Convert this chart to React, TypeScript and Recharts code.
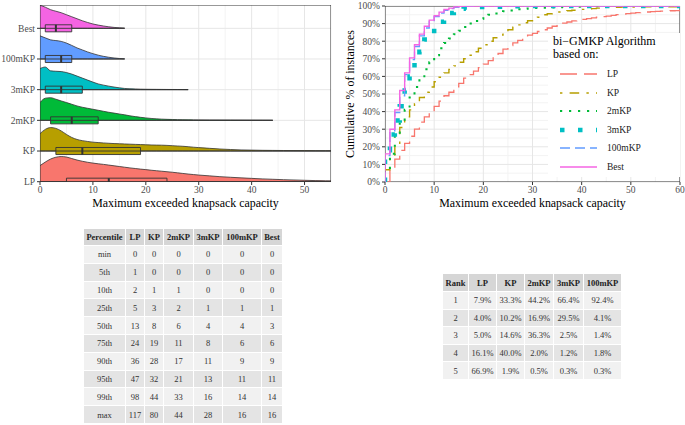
import React from 'react';
import {
  Area, CartesianGrid, ComposedChart, Legend, Line, ReferenceArea, ReferenceLine, XAxis, YAxis,
} from 'recharts';

const SERIF = "'Liberation Serif', 'DejaVu Serif', 'Tinos', 'Noto Serif', serif";
const AXIS_GREY = '#4d4d4d';
const INK = '#333333';

const ALGOS = ['LP', 'KP', '2mKP', '3mKP', '100mKP', 'Best'];
const COLORS = ['#F8766D', '#B79F00', '#00BA38', '#00BFC4', '#619CFF', '#F564E3'];

// percentile table, also used for the boxplots (min, 25th, 50th, 75th, max)
const PCT_LABELS = ['min', '5th', '10th', '25th', '50th', '75th', '90th', '95th', '99th', 'max'];
const PCT_LP = [0, 1, 2, 5, 13, 24, 36, 47, 98, 117];
const PCT_KP = [0, 0, 1, 3, 8, 19, 28, 32, 44, 80];
const PCT_2MKP = [0, 0, 1, 2, 6, 11, 17, 21, 33, 44];
const PCT_3MKP = [0, 0, 0, 1, 4, 8, 11, 13, 16, 28];
const PCT_100MKP = [0, 0, 0, 1, 4, 6, 9, 11, 14, 16];
const PCT_BEST = [0, 0, 0, 1, 3, 6, 9, 11, 14, 16];
const PCT_SERIES = [PCT_LP, PCT_KP, PCT_2MKP, PCT_3MKP, PCT_100MKP, PCT_BEST];

// rank table
const RANKS = ['1', '2', '3', '4', '5'];
const RANK_LP = ['7.9%', '4.0%', '5.0%', '16.1%', '66.9%'];
const RANK_KP = ['33.3%', '10.2%', '14.6%', '40.0%', '1.9%'];
const RANK_2MKP = ['44.2%', '16.9%', '36.3%', '2.0%', '0.5%'];
const RANK_3MKP = ['66.4%', '29.5%', '2.5%', '1.2%', '0.3%'];
const RANK_100MKP = ['92.4%', '4.1%', '1.4%', '1.8%', '0.3%'];
const RANK_SERIES = [RANK_LP, RANK_KP, RANK_2MKP, RANK_3MKP, RANK_100MKP];

// ridge densities (arbitrary units) on this x grid
const DENS_X = [
  0, 1, 2, 3, 4, 5, 6, 7, 8, 9, 10, 11, 12, 13, 14, 15, 16, 17, 18, 19, 20,
  21, 22, 23, 24, 25, 26, 27, 28, 29, 30, 32, 34, 36, 38, 40, 42, 44, 46, 48, 50, 52, 54, 56,
];
const DENS_LP = [
  16, 19.5, 22.5, 24.3, 25, 24.5, 23, 21.5, 20.3, 19.3, 18.5, 17.8, 17.2, 16.5, 15.8, 15.1, 14.4, 13.7, 13.1, 12.5, 12,
  11.4, 10.9, 10.4, 9.9, 9.4, 8.8, 8.2, 7.6, 7.1, 6.6, 5.8, 5, 4.4, 3.8, 3.3, 2.8, 2.4, 2, 1.7, 1.4, 1.1, 0.9, 0.8,
];
const DENS_KP = [
  17.3, 21.5, 23.3, 22.5, 20, 16.5, 13.5, 11.5, 10.3, 9.5, 8.8, 8.4, 8, 7.7, 7.4, 7.2, 7, 6.8, 6.6, 6.4, 6.2,
  6, 5.9, 5.8, 5.6, 5.3, 5, 4.7, 4.3, 3.8, 3.4, 2.7, 2, 1.5, 1.1, 0.9, 0.7, 0.6, 0.5, 0.45, 0.4, 0.35, 0.3, 0.3,
];
const DENS_2MKP = [
  17.7, 22, 22.5, 21, 19.3, 17.7, 16, 14.3, 13, 12, 11, 10, 9, 8, 7.2, 6.3, 5.5, 4.5, 3.7, 3, 2.4,
  1.9, 1.5, 1.2, 1, 0.85, 0.7, 0.6, 0.5, 0.45, 0.4, 0.3, 0.28, 0.25, 0.2, 0.17, 0.15, 0.1,
];
const DENS_3MKP = [
  21, 22.5, 18.7, 18.3, 18, 17, 15.5, 13.5, 11.5, 9.5, 7.5, 5.7, 4.5, 3.5, 2.6, 1.8, 1.2, 0.9, 0.7, 0.5, 0.4,
  0.35, 0.3, 0.25, 0.2, 0.17, 0.15, 0.12, 0.1,
];
const DENS_100MKP = [23, 21, 19, 18.3, 17.5, 15.8, 13.5, 11, 9, 7, 5.3, 3.8, 2.6, 1.7, 1, 0.5, 0.2];
const DENS_BEST = [23, 21, 18.5, 17, 15.5, 13.5, 11.5, 9.5, 7.5, 5.8, 4.3, 3.2, 2.3, 1.5, 0.9, 0.5, 0.2];
const DENS_SERIES = [DENS_LP, DENS_KP, DENS_2MKP, DENS_3MKP, DENS_100MKP, DENS_BEST];

// cumulative % of instances at x = 0, 1, 2, ... (flat after the last value)
const ECDF_LP = [
  0, 7.5, 13, 18, 22, 26, 30, 34, 37, 40, 43, 46, 49, 51, 54, 56, 59, 61, 63, 65, 67,
  69, 71, 73, 75.5, 77.5, 79, 80.5, 82, 83.5, 84.5, 85.5, 86.5, 87.5, 88.5, 89.5, 90.3, 90.9, 91.5, 92, 92.4,
  92.8, 93.2, 93.6, 94, 94.3, 94.7, 95.1, 95.4, 95.7, 96, 96.2, 96.4, 96.6, 96.8, 97, 97.1, 97.2, 97.3, 97.4, 97.5,
];
const ECDF_KP = [
  7, 13, 22, 31, 37, 41, 44.5, 48, 51, 54, 57, 59.5, 62, 64, 66, 68, 70, 72, 74, 76, 78,
  80, 82, 83.5, 85, 86.5, 88, 89.3, 90.5, 91.6, 92.5, 93.6, 95, 95.6, 96.1, 96.6, 97, 97.3, 97.6, 97.9, 98.1,
  98.3, 98.5, 98.8, 99.1, 99.2, 99.3, 99.3, 99.4, 99.4, 99.4, 99.5,
];
const ECDF_2MKP = [
  7, 16, 26, 34, 41, 48, 54, 59, 64, 68, 72, 76, 79, 81.5, 84, 86, 88, 90, 91.5, 92.7, 93.8,
  95, 95.8, 96.5, 97, 97.4, 97.8, 98.1, 98.4, 98.6, 98.8, 98.9, 99, 99.1, 99.2, 99.3, 99.4, 99.5, 99.5, 99.6, 99.7,
  99.7, 99.8, 99.9, 100,
];
const ECDF_3MKP = [
  18, 27, 35, 43, 52, 60, 68, 74, 81, 84, 88, 91, 93.5, 96, 97.5, 98.5, 99.2, 99.4, 99.5, 99.5, 99.5,
  99.5, 99.6, 99.6, 99.7, 99.7, 99.8, 99.8, 100,
];
const ECDF_100MKP = [15, 29, 39.5, 49, 61, 69.5, 77, 83, 87.5, 91.3, 94, 96, 97.5, 98.5, 99.2, 99.6, 100];
const ECDF_BEST = [16, 30, 41, 52, 62, 70.5, 78, 84, 88.5, 92, 94.5, 96.5, 98, 98.8, 99.5, 99.8, 100];
const ECDF_SERIES = [ECDF_LP, ECDF_KP, ECDF_2MKP, ECDF_3MKP, ECDF_100MKP, ECDF_BEST];

const DASHES = ['17 7', '2.4 7.2 9.6 7.2', '2.2 6.8', '4.5 13.5', '10 5', undefined];
const WIDTHS = [1.3, 1.4, 2, 4.5, 1.3, 1.4];

const RIDGE_SCALE = 0.0328; // density units -> row heights
const BOX_HALF = 0.115;

const ridgeRows = DENS_X.map((x, i) => {
  const row: Record<string, any> = { x };
  DENS_SERIES.forEach((d, k) => {
    if (i < d.length) row[ALGOS[k]] = [k + 1, k + 1 + d[i] * RIDGE_SCALE];
  });
  return row;
});

const ecdfPoints = (vals: number[], xMax: number) => {
  const pts = [{ x: 0, y: 0 }, ...vals.map((v, i) => ({ x: i, y: v }))];
  pts.push({ x: xMax, y: vals[vals.length - 1] });
  return pts;
};

const tickStyle = { fontSize: 9.5, fill: AXIS_GREY, fontFamily: SERIF };
const titleStyle = { fontSize: 11.9, fill: '#000', fontFamily: SERIF };

function RidgeChart() {
  return (
    <ComposedChart width={340} height={210} data={ridgeRows} margin={{ top: 5, right: 9, bottom: 0, left: 0 }}>
      <CartesianGrid stroke="#f3f3f3" verticalValues={[5, 15, 25, 35, 45, 55]} horizontal={false} />
      <CartesianGrid stroke="#e6e6e6" verticalValues={[0, 10, 20, 30, 40, 50]} horizontalValues={[1, 2, 3, 4, 5, 6]} />
      <XAxis
        type="number" dataKey="x" domain={[0, 55]} allowDataOverflow ticks={[0, 10, 20, 30, 40, 50]}
        height={28} tickSize={3} tickMargin={1} tick={tickStyle} axisLine={false} tickLine={{ stroke: INK }}
        label={{ value: 'Maximum exceeded knapsack capacity', position: 'center', dy: 7, style: titleStyle }}
      />
      <YAxis
        type="number" domain={[0.99, 6.76]} allowDataOverflow ticks={[1, 2, 3, 4, 5, 6]} interval={0}
        tickFormatter={(v: number) => ALGOS[v - 1]} width={40} tickSize={3} tickMargin={2}
        tick={tickStyle} axisLine={false} tickLine={{ stroke: INK }}
      />
      {ALGOS.map((a, k) => (
        <Area
          key={a} dataKey={a} type="monotone" fill={COLORS[k]} fillOpacity={1}
          stroke={INK} strokeWidth={0.8} isAnimationActive={false}
        />
      ))}
      {PCT_SERIES.map((p, k) => (
        <ReferenceLine
          key={`w${k}`} segment={[{ x: p[0], y: k + 1 }, { x: p[9], y: k + 1 }]}
          stroke={INK} strokeWidth={0.9} ifOverflow="hidden"
        />
      ))}
      {PCT_SERIES.map((p, k) => (
        <ReferenceArea
          key={`b${k}`} x1={p[3]} x2={p[5]} y1={k + 1 - BOX_HALF} y2={k + 1 + BOX_HALF}
          fill={COLORS[k]} fillOpacity={1} stroke={INK} strokeWidth={0.9} ifOverflow="hidden"
        />
      ))}
      {PCT_SERIES.map((p, k) => (
        <ReferenceLine
          key={`m${k}`} segment={[{ x: p[4], y: k + 1 - BOX_HALF }, { x: p[4], y: k + 1 + BOX_HALF }]}
          stroke={INK} strokeWidth={2} ifOverflow="hidden"
        />
      ))}
      <ReferenceArea x1={0} x2={55} y1={0.99} y2={6.76} fill="none" stroke={INK} strokeWidth={1} ifOverflow="hidden" />
    </ComposedChart>
  );
}

function EcdfLegend() {
  return (
    <div style={{ position: 'relative', width: 132, height: 144, background: '#fff', fontFamily: SERIF }}>
      <div style={{ position: 'absolute', left: 5, top: 2, fontSize: 12, lineHeight: '13px', color: '#000', whiteSpace: 'nowrap' }}>
        bi−GMKP Algorithm<br />based on:
      </div>
      {ALGOS.map((a, k) => (
        <div key={a} style={{ position: 'absolute', left: 12, top: 32 + k * 18.5, height: 18, display: 'flex', alignItems: 'center' }}>
          <svg width={47} height={10}>
            <line x1={0} x2={37} y1={5} y2={5} stroke={COLORS[k]} strokeWidth={WIDTHS[k]} strokeDasharray={DASHES[k]} />
          </svg>
          <span style={{ fontSize: 9.5, color: '#222' }}>{a}</span>
        </div>
      ))}
    </div>
  );
}

function EcdfChart() {
  return (
    <ComposedChart width={345} height={210} margin={{ top: 6, right: 5, bottom: 0, left: 0 }}>
      <CartesianGrid
        stroke="#f3f3f3" verticalValues={[5, 15, 25, 35, 45, 55]}
        horizontalValues={[5, 15, 25, 35, 45, 55, 65, 75, 85, 95]}
      />
      <CartesianGrid
        stroke="#e6e6e6" verticalValues={[0, 10, 20, 30, 40, 50, 60]}
        horizontalValues={[0, 10, 20, 30, 40, 50, 60, 70, 80, 90, 100]}
      />
      <XAxis
        type="number" dataKey="x" domain={[0, 60]} allowDataOverflow ticks={[0, 10, 20, 30, 40, 50, 60]}
        height={28} tickSize={3} tickMargin={1} tick={tickStyle} axisLine={false} tickLine={{ stroke: INK }}
        label={{ value: 'Maximum exceeded knapsack capacity', position: 'center', dy: 7, style: titleStyle }}
      />
      <YAxis
        type="number" dataKey="y" domain={[0, 100]} allowDataOverflow ticks={[0, 10, 20, 30, 40, 50, 60, 70, 80, 90, 100]}
        interval={0} tickFormatter={(v: number) => `${v}%`} width={45} tickSize={3} tickMargin={2}
        tick={tickStyle} axisLine={false} tickLine={{ stroke: INK }}
        label={{ value: 'Cumulative % of instances', angle: -90, position: 'center', dx: -13, style: titleStyle }}
      />
      {ECDF_SERIES.map((vals, k) => (
        <Line
          key={ALGOS[k]} data={ecdfPoints(vals, 60)} dataKey="y" type="stepAfter" dot={false}
          stroke={COLORS[k]} strokeWidth={WIDTHS[k]} strokeDasharray={DASHES[k]} isAnimationActive={false}
        />
      ))}
      <ReferenceArea x1={0} x2={60} y1={0} y2={100} fill="none" stroke={INK} strokeWidth={1} ifOverflow="hidden" />
      <Legend
        layout="vertical" align="center" verticalAlign="middle"
        wrapperStyle={{ left: 208, top: 33, width: 132, height: 144 }}
        content={() => <EcdfLegend />}
      />
    </ComposedChart>
  );
}

const cellStyle: React.CSSProperties = { border: '1.5px solid #fff', padding: 0, textAlign: 'center' };

function PercentileTable() {
  const widths = [42, 19, 19, 30, 29, 39, 21];
  return (
    <table style={{
      position: 'absolute', left: 83, top: 228, width: 199, borderCollapse: 'collapse', tableLayout: 'fixed',
      fontFamily: SERIF, fontSize: 8.5, color: '#333',
    }}>
      <colgroup>{widths.map((w, i) => <col key={i} style={{ width: w }} />)}</colgroup>
      <thead>
        <tr style={{ background: '#d6d6d6', height: 17 }}>
          <th style={{ ...cellStyle, color: '#222' }}>Percentile</th>
          {ALGOS.map((a) => <th key={a} style={{ ...cellStyle, color: '#222' }}>{a}</th>)}
        </tr>
      </thead>
      <tbody>
        {PCT_LABELS.map((lab, r) => (
          <tr key={lab} style={{ background: r % 2 ? '#e4e4e4' : '#f1f1f1', height: 17.8 }}>
            <td style={cellStyle}>{lab}</td>
            {PCT_SERIES.map((s, k) => <td key={k} style={cellStyle}>{s[r]}</td>)}
          </tr>
        ))}
      </tbody>
    </table>
  );
}

function RankTable() {
  const widths = [26, 28, 28, 29, 30, 38];
  return (
    <table style={{
      position: 'absolute', left: 442, top: 273, width: 179, borderCollapse: 'collapse', tableLayout: 'fixed',
      fontFamily: SERIF, fontSize: 8.5, color: '#333',
    }}>
      <colgroup>{widths.map((w, i) => <col key={i} style={{ width: w }} />)}</colgroup>
      <thead>
        <tr style={{ background: '#d6d6d6', height: 18 }}>
          <th style={{ ...cellStyle, color: '#222' }}>Rank</th>
          {ALGOS.slice(0, 5).map((a) => <th key={a} style={{ ...cellStyle, color: '#222' }}>{a}</th>)}
        </tr>
      </thead>
      <tbody>
        {RANKS.map((rk, r) => (
          <tr key={rk} style={{ background: r % 2 ? '#e4e4e4' : '#f1f1f1', height: 17.6 }}>
            <td style={cellStyle}>{rk}</td>
            {RANK_SERIES.map((s, k) => <td key={k} style={cellStyle}>{s[r]}</td>)}
          </tr>
        ))}
      </tbody>
    </table>
  );
}

export default function App() {
  return (
    <div style={{ position: 'absolute', left: 0, top: 0, width: 685, height: 425, background: '#fff' }}>
      <div style={{ position: 'absolute', left: 0, top: 0 }}>
        <RidgeChart />
      </div>
      <div style={{ position: 'absolute', left: 340, top: 0 }}>
        <EcdfChart />
      </div>
      <PercentileTable />
      <RankTable />
    </div>
  );
}
